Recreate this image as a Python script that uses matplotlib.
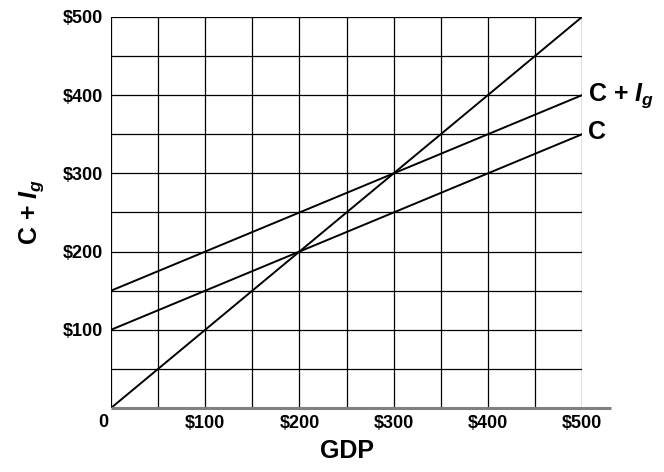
import matplotlib.pyplot as plt
import numpy as np

plt.rcParams['font.family'] = ['Liberation Sans', 'DejaVu Sans']
plt.rcParams['mathtext.fontset'] = 'custom'
plt.rcParams['mathtext.rm'] = 'Liberation Sans:bold'
plt.rcParams['mathtext.it'] = 'Liberation Sans:italic:bold'
plt.rcParams['mathtext.bf'] = 'Liberation Sans:bold'

# data
gdp = [0, 500]
line45 = [0, 500]
consumption = [100, 350]
cons_inv = [150, 400]
tick_vals = [100, 200, 300, 400, 500]
tick_labels = ["$100", "$200", "$300", "$400", "$500"]

fig = plt.figure(figsize=(6.64, 4.72), dpi=100)
ax = fig.add_axes([0.1672, 0.1356, 0.7093, 0.8284])

ax.set_xlim(0, 500)
ax.set_ylim(0, 500)

# grid every 50
for v in np.arange(0, 501, 50):
    ax.axvline(v, color="black", lw=0.9, zorder=1)
    if v > 0:
        ax.axhline(v, color="black", lw=0.9, zorder=1)

ax.plot(gdp, line45, color="black", lw=1.4, zorder=3)
ax.plot(gdp, consumption, color="black", lw=1.4, zorder=3)
ax.plot(gdp, cons_inv, color="black", lw=1.4, zorder=3)

for s in ax.spines.values():
    s.set_visible(False)
# grey base line extending past the plot
ax.plot([0, 531], [0, 0], color="#808080", lw=2.2, clip_on=False, zorder=4,
        solid_capstyle="butt")

ax.set_xticks(tick_vals)
ax.set_xticklabels(tick_labels, fontsize=13, fontweight="bold")
ax.set_yticks(tick_vals)
ax.set_yticklabels(tick_labels, fontsize=13, fontweight="bold")
ax.tick_params(length=0)
ax.tick_params(axis="y", pad=6)
ax.tick_params(axis="x", pad=5)

ax.annotate("0", xy=(0, 0), xytext=(-2, -4), textcoords="offset points",
            ha="right", va="top", fontsize=13, fontweight="bold")

ax.set_xlabel("GDP", fontsize=18, fontweight="bold", labelpad=5)
ax.set_ylabel(r"C + $\mathit{I}_{\mathit{g}}$", fontsize=18, fontweight="bold", labelpad=12)

ax.annotate(r"C + $\mathit{I}_{\mathit{g}}$", xy=(500, 400), xytext=(4, 0),
            textcoords="offset points", ha="left", va="center",
            fontsize=18, fontweight="bold", annotation_clip=False)
ax.annotate("C", xy=(500, 350), xytext=(4, 2), textcoords="offset points",
            ha="left", va="center", fontsize=18, fontweight="bold",
            annotation_clip=False)

fig.savefig("out.png", dpi=100)
